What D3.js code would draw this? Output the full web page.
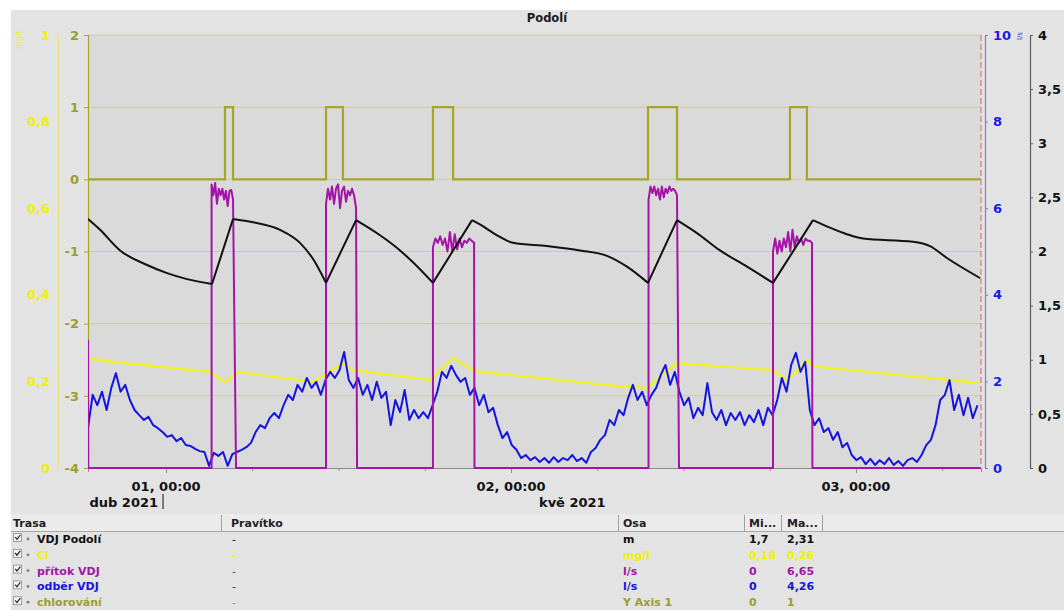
<!DOCTYPE html>
<html>
<head>
<meta charset="utf-8">
<script src="https://cdn.jsdelivr.net/npm/d3@7"></script>
<style>
  body { margin: 0; background: #fff; }
  svg { display: block; font-family: "DejaVu Sans", Verdana, sans-serif; }
</style>
</head>
<body>
<svg id="chart" width="1064" height="610"></svg>
<script>
// ---------------- data (time in hours from "01, 00:00") ----------------
const dayTickHours = [0, 24, 48];
const dayTickLabels = ["01, 00:00", "02, 00:00", "03, 00:00"];
const monthLabels = ["dub 2021", "kvě 2021"];

// VDJ Podolí – water level [m]
const levelTimes = [-5.43, -4.59, -3.20, -1.32, 0.07, 1.46, 3.20, 4.66, 6.05, 7.93, 9.32, 10.23, 11.13,
  13.22, 14.89, 16.28, 17.18, 18.57, 21.29, 21.84, 23.03, 24.14, 26.50, 28.80, 30.68, 32.07, 33.53,
  35.55, 36.94, 38.54, 40.42, 42.23, 45.01, 46.19, 47.37, 48.49, 51.97, 53.15, 54.33, 56.63];
const levelValues = [2.30, 2.20, 2.01, 1.875, 1.80, 1.745, 1.70, 2.30, 2.27, 2.20, 2.08, 1.93, 1.71,
  2.29, 2.15, 2.01, 1.90, 1.71, 2.29, 2.25, 2.15, 2.08, 2.05, 2.01, 1.96, 1.86, 1.71,
  2.29, 2.17, 2.01, 1.86, 1.71, 2.29, 2.22, 2.16, 2.12, 2.09, 2.05, 1.94, 1.755];

// Cl – free chlorine [mg/l]
const clTimes = [-5.43, -3.69, 3.06, 4.10, 5.01, 10.23, 12.31, 13.01, 18.37, 19.97, 21.36, 21.84,
  32.07, 33.46, 35.55, 42.23, 43.20, 44.66, 45.01, 56.63];
const clValues = [0.253, 0.245, 0.222, 0.198, 0.222, 0.199, 0.242, 0.226, 0.203, 0.254, 0.226, 0.222,
  0.187, 0.185, 0.242, 0.226, 0.203, 0.248, 0.235, 0.196];

// přítok VDJ – inflow [l/s]: initial value, then pump runs (start, end of run, back at zero, plateau readings)
const inflowInitial = 2.96;
const inflowStart = [3.17, 11.13, 18.57, 33.57, 42.23];
const inflowEnd = [4.66, 13.22, 21.43, 35.55, 44.94];
const inflowOff = [4.87, 13.29, 21.46, 35.69, 44.97];
const inflowRuns = [
  [6.55, 6.30, 6.58, 6.10, 6.45, 6.30, 6.45, 6.20, 6.40, 6.05, 6.40, 6.42, 6.20],
  [6.10, 6.45, 6.20, 6.50, 6.10, 6.45, 6.55, 6.00, 6.40, 6.50, 6.15, 6.40, 6.30, 6.45, 6.30, 6.00],
  [5.10, 5.30, 5.20, 5.35, 5.15, 5.30, 5.00, 5.45, 5.00, 5.40, 5.05, 5.30, 5.10, 5.25, 5.20, 5.30, 5.25, 5.20],
  [6.20, 6.50, 6.35, 6.50, 6.30, 6.45, 6.20, 6.50, 6.25, 6.45, 6.35, 6.50, 6.40, 6.45, 6.40, 6.30],
  [5.00, 5.30, 4.95, 5.25, 5.00, 5.30, 5.10, 5.45, 5.00, 5.50, 5.10, 5.35, 5.20, 5.30, 5.15, 5.30, 5.25, 5.25, 5.20]
];

// odběr VDJ – outflow [l/s], regular readings
const outflowStart = -5.43;
const outflowStep = 0.324;
const outflowValues = [
  0.92, 1.69, 1.45, 1.76, 1.34, 1.85, 2.19, 1.76, 1.92, 1.57,
  1.34, 1.22, 1.11, 1.18, 0.99, 0.92, 0.83, 0.72, 0.76, 0.62,
  0.69, 0.53, 0.51, 0.44, 0.39, 0.37, 0.05, 0.35, 0.28, 0.37,
  0.05, 0.32, 0.37, 0.42, 0.48, 0.58, 0.83, 0.99, 0.92, 1.15,
  1.27, 1.15, 1.45, 1.69, 1.57, 1.92, 1.76, 2.08, 1.85, 1.99,
  1.69, 2.03, 2.22, 2.08, 2.26, 2.68, 2.03, 1.85, 2.08, 1.69,
  1.92, 1.57, 1.99, 1.62, 1.76, 0.99, 1.57, 1.29, 1.80, 1.11,
  1.34, 1.15, 1.29, 1.15, 1.45, 1.76, 2.22, 2.08, 2.36, 2.15,
  1.99, 2.08, 1.69, 1.85, 1.45, 1.69, 1.29, 1.39, 0.99, 0.69,
  0.83, 0.53, 0.42, 0.23, 0.30, 0.18, 0.25, 0.14, 0.23, 0.12,
  0.25, 0.14, 0.23, 0.18, 0.30, 0.16, 0.23, 0.12, 0.37, 0.46,
  0.65, 0.76, 1.11, 0.99, 1.34, 1.22, 1.62, 1.92, 1.57, 1.76,
  1.45, 1.69, 1.85, 2.15, 2.38, 1.92, 2.22, 1.76, 1.45, 1.62,
  1.15, 1.39, 1.22, 1.96, 1.29, 1.11, 1.34, 0.99, 1.27, 1.11,
  1.29, 0.99, 1.22, 1.06, 1.34, 0.99, 1.39, 1.22, 1.57, 2.08,
  1.76, 2.38, 2.66, 2.22, 2.45, 1.34, 0.99, 1.15, 0.83, 0.92,
  0.65, 0.83, 0.48, 0.58, 0.30, 0.18, 0.25, 0.09, 0.21, 0.07,
  0.18, 0.09, 0.23, 0.07, 0.16, 0.05, 0.18, 0.23, 0.14, 0.30,
  0.53, 0.65, 0.99, 1.57, 1.69, 2.03, 1.34, 1.69, 1.22, 1.62,
  1.15, 1.45
];

// chlorování – dosing on/off
const dosingOn = [4.10, 11.13, 18.57, 33.53, 43.41];
const dosingOff = [4.66, 12.31, 19.97, 35.55, 44.59];

// axis ticks
const dosingTicks = [-4, -3, -2, -1, 0, 1, 2];
const clTicks = [0, 0.2, 0.4, 0.6, 0.8, 1];
const flowTicks = [0, 2, 4, 6, 8, 10];
const levelTicks = [0, 0.5, 1, 1.5, 2, 2.5, 3, 3.5, 4];

// legend table
const tableHeaders = ["Trasa", "Pravítko", "Osa", "Mi...", "Ma..."];
const seriesNames = ["VDJ Podolí", "Cl", "přítok VDJ", "odběr VDJ", "chlorování"];
const seriesUnits = ["m", "mg/l", "l/s", "l/s", "Y Axis 1"];
const seriesMin = ["1,7", "0,18", "0", "0", "0"];
const seriesMax = ["2,31", "0,26", "6,65", "4,26", "1"];

// ---------------- drawing ----------------
const C = {
  level: "#111111", cl: "#f2f21a", inflow: "#a414a8", outflow: "#1414e0", dosing: "#a6a626",
  clText: "#f0f000", dosingText: "#9d9d2c", flowText: "#1a1ae6"
};
const seriesColors = [C.level, C.clText, C.inflow, C.outflow, C.dosingText];

const svg = d3.select("#chart");
const W = 1064, H = 610;
const L = 88, R = 981, T = 35, B = 468;

svg.append("rect").attr("width", W).attr("height", H).attr("fill", "#ffffff");
svg.append("rect").attr("x", 11).attr("y", 10).attr("width", W - 11).attr("height", H - 10).attr("fill", "#e3e3e3");
svg.append("rect").attr("x", L).attr("y", T).attr("width", R - L).attr("height", B - T).attr("fill", "#dadada");

const x = d3.scaleLinear().domain([-5.43, 56.70]).range([L, R]);
const yDosing = d3.scaleLinear().domain([-4, 2]).range([B, T]);
const yCl = d3.scaleLinear().domain([0, 1]).range([B, T]);
const yFlow = d3.scaleLinear().domain([0, 10]).range([B, T]);
const yLevel = d3.scaleLinear().domain([0, 4]).range([B, T]);

const comma = d => String(d).replace(".", ",");

// horizontal grid on the dosing axis
svg.append("g").selectAll("line").data(dosingTicks.filter(d => d > -4)).join("line")
  .attr("x1", L).attr("x2", R).attr("y1", d => yDosing(d)).attr("y2", d => yDosing(d))
  .attr("stroke", "#cacaa6").attr("stroke-width", 1);

// bottom time axis
const xAxis = svg.append("g").attr("transform", `translate(0,${B})`)
  .call(d3.axisBottom(x).tickValues(d3.range(0, 57, 6)).tickSize(4).tickFormat(""));
xAxis.select(".domain").attr("stroke", "#8c8c8c");
xAxis.selectAll(".tick line").attr("stroke", "#8c8c8c")
  .attr("y2", d => dayTickHours.includes(d) ? 5 : 3);

svg.append("g").selectAll("text").data(dayTickHours).join("text")
  .attr("x", d => x(d)).attr("y", 491).attr("text-anchor", "middle")
  .attr("font-size", 13).attr("font-weight", "bold").attr("fill", "#111")
  .text((d, i) => dayTickLabels[i]);
svg.append("text").attr("x", x(0) - 8).attr("y", 507).attr("text-anchor", "end")
  .attr("font-size", 13).attr("font-weight", "bold").attr("fill", "#111").text(monthLabels[0]);
svg.append("line").attr("x1", x(0) - 3).attr("x2", x(0) - 3).attr("y1", 494).attr("y2", 509)
  .attr("stroke", "#111").attr("stroke-width", 1);
svg.append("text").attr("x", x(24) + 28).attr("y", 507).attr("text-anchor", "start")
  .attr("font-size", 13).attr("font-weight", "bold").attr("fill", "#111").text(monthLabels[1]);

// left axis: chlorování
const gDos = svg.append("g").attr("transform", `translate(${L},0)`);
gDos.call(d3.axisLeft(yDosing).tickValues(d3.range(-4, 2.01, 0.25)).tickSize(2).tickFormat(""));
gDos.call(d3.axisLeft(yDosing).tickValues(dosingTicks).tickSize(4).tickPadding(5).tickFormat(d => String(d)));
gDos.selectAll(".domain").attr("stroke", C.dosing).attr("stroke-width", 1.2);
gDos.selectAll(".tick line").attr("stroke", C.dosing);
gDos.selectAll(".tick text").attr("font-size", 13).attr("font-weight", "bold").attr("fill", C.dosingText)
  .attr("font-family", "DejaVu Sans, sans-serif");

// left axis: Cl
const gCl = svg.append("g").attr("transform", `translate(58,0)`);
gCl.call(d3.axisLeft(yCl).tickValues(clTicks).tickSize(0).tickPadding(8).tickFormat(comma));
gCl.select(".domain").attr("stroke", "#e6e27c").attr("stroke-width", 1.2);
gCl.selectAll(".tick text").attr("font-size", 13).attr("font-weight", "bold").attr("fill", C.clText)
  .attr("font-family", "DejaVu Sans, sans-serif");
svg.append("text").attr("transform", "translate(22,40) rotate(-90)").attr("text-anchor", "middle")
  .attr("font-size", 8).attr("fill", C.clText).text("mg/l");

// right axis: l/s
const gFlow = svg.append("g").attr("transform", `translate(985,0)`);
gFlow.call(d3.axisRight(yFlow).tickValues(d3.range(0, 10.01, 0.5)).tickSize(2).tickFormat(""));
gFlow.call(d3.axisRight(yFlow).tickValues(flowTicks).tickSize(3).tickPadding(5).tickFormat(comma));
gFlow.selectAll(".domain").attr("stroke", "#7b7bea").attr("stroke-width", 1.2);
gFlow.selectAll(".tick line").attr("stroke", "#7b7bea");
gFlow.selectAll(".tick text").attr("font-size", 13).attr("font-weight", "bold").attr("fill", C.flowText)
  .attr("font-family", "DejaVu Sans, sans-serif");
svg.append("text").attr("transform", "translate(1022,36) rotate(-90)").attr("text-anchor", "middle")
  .attr("font-size", 7).attr("fill", C.flowText).text("l/s");

// right axis: m
const gLev = svg.append("g").attr("transform", `translate(1030,0)`);
gLev.call(d3.axisRight(yLevel).tickValues(d3.range(0, 4.01, 0.25)).tickSize(2).tickFormat(""));
gLev.call(d3.axisRight(yLevel).tickValues(levelTicks).tickSize(3).tickPadding(5).tickFormat(comma));
gLev.selectAll(".domain").attr("stroke", "#5c5c5c").attr("stroke-width", 1.2);
gLev.selectAll(".tick line").attr("stroke", "#5c5c5c");
gLev.selectAll(".tick text").attr("font-size", 13).attr("font-weight", "bold").attr("fill", "#111")
  .attr("font-family", "DejaVu Sans, sans-serif");

// title
svg.append("text").attr("x", 547).attr("y", 22).attr("text-anchor", "middle")
  .attr("font-size", 11.5).attr("font-weight", "bold").attr("fill", "#1a1a1a").text("Podolí");

// ----- series -----
const plot = svg.append("g");
plot.append("clipPath").attr("id", "clip").append("rect")
  .attr("x", L).attr("y", T - 5).attr("width", R - L + 1).attr("height", B - T + 6);
const series = plot.append("g").attr("clip-path", "url(#clip)");

// chlorování (step)
const dosingPts = [[x.domain()[0], 0]];
dosingOn.forEach((t, i) => { dosingPts.push([t, 1]); dosingPts.push([dosingOff[i], 0]); });
dosingPts.push([x.domain()[1], 0]);
series.append("path").datum(dosingPts)
  .attr("d", d3.line().x(d => x(d[0])).y(d => yDosing(d[1])).curve(d3.curveStepAfter))
  .attr("fill", "none").attr("stroke", C.dosing).attr("stroke-width", 2.2);

// Cl
series.append("path").datum(clTimes.map((t, i) => [t, clValues[i]]))
  .attr("d", d3.line().x(d => x(d[0])).y(d => yCl(d[1])))
  .attr("fill", "none").attr("stroke", C.cl).attr("stroke-width", 2.2);

// odběr VDJ
series.append("path").datum(outflowValues.map((v, i) => [outflowStart + i * outflowStep, v]))
  .attr("d", d3.line().x(d => x(d[0])).y(d => yFlow(d[1])))
  .attr("fill", "none").attr("stroke", C.outflow).attr("stroke-width", 2).attr("stroke-linejoin", "round");

// přítok VDJ
const t0 = x.domain()[0];
const inflowPts = [[t0, inflowInitial], [t0 + 0.02, 0]];
inflowStart.forEach((s, i) => {
  const vals = inflowRuns[i];
  const step = (inflowEnd[i] - s) / (vals.length - 1);
  inflowPts.push([s, 0]);
  vals.forEach((v, k) => inflowPts.push([s + k * step, v]));
  inflowPts.push([inflowOff[i], 0]);
});
inflowPts.push([x.domain()[1], 0]);
series.append("path").datum(inflowPts)
  .attr("d", d3.line().x(d => x(d[0])).y(d => yFlow(d[1])))
  .attr("fill", "none").attr("stroke", C.inflow).attr("stroke-width", 2).attr("stroke-linejoin", "round");

// VDJ Podolí level: smooth between turning points, sharp at fill/drain switches
const levelPts = levelTimes.map((t, i) => [t, levelValues[i]]);
const levelSegments = [];
let seg = [levelPts[0]];
for (let i = 1; i < levelPts.length; i++) {
  seg.push(levelPts[i]);
  const isTurn = i < levelPts.length - 1 &&
    (levelPts[i][1] - levelPts[i - 1][1]) * (levelPts[i + 1][1] - levelPts[i][1]) < 0;
  if (isTurn) { levelSegments.push(seg); seg = [levelPts[i]]; }
}
levelSegments.push(seg);
const levelLine = d3.line().x(d => x(d[0])).y(d => yLevel(d[1])).curve(d3.curveMonotoneX);
series.append("path")
  .attr("d", levelSegments.map(s => levelLine(s)).join(""))
  .attr("fill", "none").attr("stroke", C.level).attr("stroke-width", 2).attr("stroke-linejoin", "round");

// right boundary marker
svg.append("line").attr("x1", R).attr("x2", R).attr("y1", T).attr("y2", B)
  .attr("stroke", "#e07f7f").attr("stroke-width", 1.3).attr("stroke-dasharray", "6,3");

// ----- legend table -----
const tbl = svg.append("g").attr("font-size", 11).attr("font-weight", "bold");
const colX = [13, 231, 623, 749, 787];
const sepX = [221, 618, 744, 781, 822];
tbl.append("rect").attr("x", 11).attr("y", 514).attr("width", W - 11).attr("height", 17).attr("fill", "#ebebeb");
tbl.append("line").attr("x1", 11).attr("x2", W).attr("y1", 531.5).attr("y2", 531.5).attr("stroke", "#a8a8a8");
tbl.selectAll("line.sep").data(sepX).join("line").attr("class", "sep")
  .attr("x1", d => d + 0.5).attr("x2", d => d + 0.5).attr("y1", 515).attr("y2", 531)
  .attr("stroke", "#a0a0a0");
tbl.selectAll("text.hdr").data(tableHeaders).join("text").attr("class", "hdr")
  .attr("x", (d, i) => colX[i]).attr("y", 527).attr("fill", "#222").text(d => d);

const rowY = i => 543 + i * 15.8;
seriesNames.forEach((name, i) => {
  const g = tbl.append("g");
  const y = rowY(i);
  g.append("rect").attr("x", 13.5).attr("y", y - 9.5).attr("width", 8).attr("height", 8)
    .attr("fill", "#f4f4f4").attr("stroke", "#8a8a8a").attr("stroke-width", 0.8);
  g.append("path").attr("d", `M15.2,${y - 5.8} L17,${y - 3.6} L20.3,${y - 8}`)
    .attr("fill", "none").attr("stroke", "#222").attr("stroke-width", 1.2);
  g.append("circle").attr("cx", 28).attr("cy", y - 4).attr("r", 1.4).attr("fill", "#5f8f6a");
  g.append("text").attr("x", 37).attr("y", y).attr("fill", seriesColors[i]).text(name);
  g.append("text").attr("x", colX[1] + 1).attr("y", y).attr("fill", seriesColors[i])
    .attr("font-weight", "normal").text("-");
  g.append("text").attr("x", colX[2]).attr("y", y).attr("fill", seriesColors[i]).text(seriesUnits[i]);
  g.append("text").attr("x", colX[3]).attr("y", y).attr("fill", seriesColors[i]).text(seriesMin[i]);
  g.append("text").attr("x", colX[4]).attr("y", y).attr("fill", seriesColors[i]).text(seriesMax[i]);
});
</script>
</body>
</html>
